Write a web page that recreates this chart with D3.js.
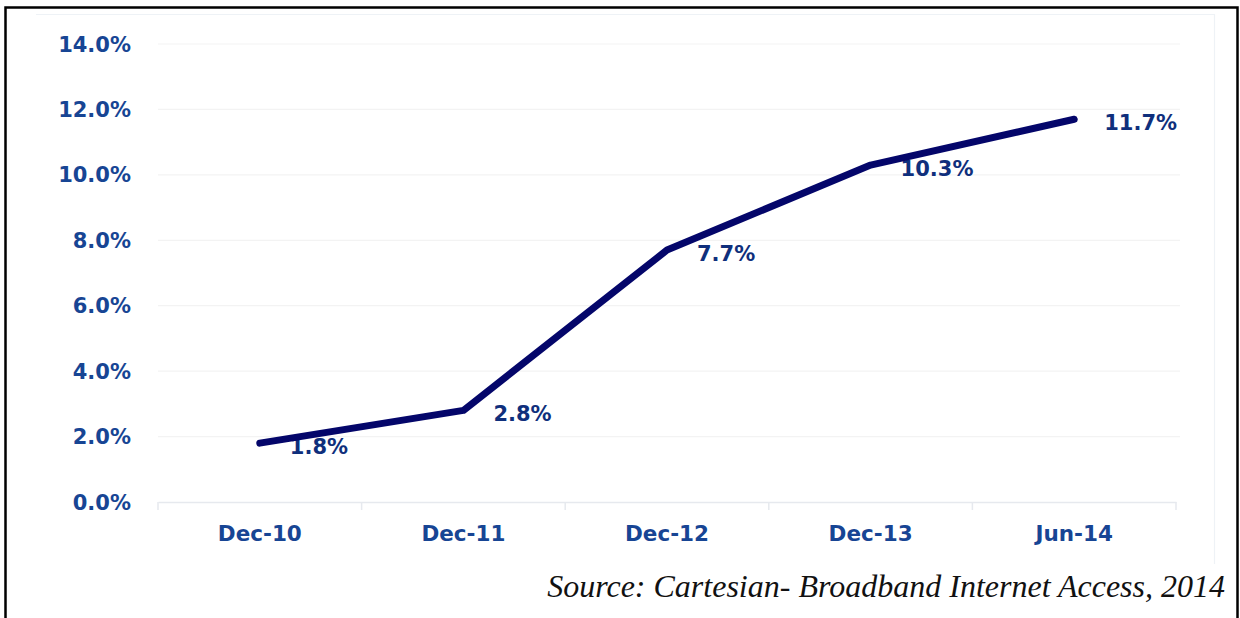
<!DOCTYPE html>
<html>
<head>
<meta charset="utf-8">
<script src="https://cdn.jsdelivr.net/npm/d3@7"></script>
<style>
  html, body { margin: 0; padding: 0; background: #fff; }
  svg { display: block; }
</style>
</head>
<body>
<svg id="chart" width="1240" height="618"></svg>
<script>
// Broadband penetration by period
const periods = ["Dec-10", "Dec-11", "Dec-12", "Dec-13", "Jun-14"];
const penetration = [1.8, 2.8, 7.7, 10.3, 11.7];
const yTicks = [0, 2, 4, 6, 8, 10, 12, 14];
const sourceNote = "Source: Cartesian- Broadband Internet Access, 2014";

const svg = d3.select("#chart");
const axisColor = "#174594";
const labelColor = "#0f2f7c";
const lineColor = "#04066a";
const labelFont = "DejaVu Sans, Verdana, sans-serif";

// outer frame
svg.append("rect")
  .attr("x", 5.5).attr("y", 7.5).attr("width", 1232).attr("height", 620)
  .attr("fill", "none").attr("stroke", "#000").attr("stroke-width", 2.5);

// faint chart-area edges (top and right)
svg.append("path")
  .attr("d", "M36,14.5H1214.5V564")
  .attr("fill", "none").attr("stroke", "#eef2f6").attr("stroke-width", 1.2);

const plot = { left: 158, right: 1176, top: 44, bottom: 502 };

const x = d3.scaleBand().domain(periods).range([plot.left, plot.right]).padding(0);
const y = d3.scaleLinear().domain([0, 14]).range([plot.bottom, plot.top]);

// horizontal gridlines
svg.append("g")
  .selectAll("line")
  .data(yTicks.filter(d => d > 0))
  .join("line")
  .attr("x1", plot.left).attr("x2", plot.right + 4)
  .attr("y1", d => y(d)).attr("y2", d => y(d))
  .attr("stroke", "#f3f3f3").attr("stroke-width", 1.2);

// y axis labels
svg.append("g")
  .selectAll("text")
  .data(yTicks)
  .join("text")
  .attr("x", 131)
  .attr("y", d => y(d))
  .attr("dy", "0.36em")
  .attr("text-anchor", "end")
  .attr("font-family", labelFont)
  .attr("font-weight", "bold")
  .attr("font-size", 21)
  .attr("fill", axisColor)
  .text(d => d.toFixed(1) + "%");

// x axis baseline with category ticks
const xAxis = d3.axisBottom(x).tickSize(0).tickFormat("");
const gx = svg.append("g").attr("transform", `translate(0,${plot.bottom})`).call(xAxis);
gx.select(".domain").attr("stroke", "#e6e9ee").attr("stroke-width", 1.5);
gx.selectAll(".tick").remove();
svg.append("g")
  .selectAll("line")
  .data(periods.map(p => x(p)).concat([plot.right]))
  .join("line")
  .attr("x1", d => d).attr("x2", d => d)
  .attr("y1", plot.bottom).attr("y2", plot.bottom + 8)
  .attr("stroke", "#e6e9ee").attr("stroke-width", 1.5);

// x category labels
svg.append("g")
  .selectAll("text")
  .data(periods)
  .join("text")
  .attr("x", d => x(d) + x.bandwidth() / 2)
  .attr("y", 541)
  .attr("text-anchor", "middle")
  .attr("font-family", labelFont)
  .attr("font-weight", "bold")
  .attr("font-size", 21.5)
  .attr("fill", axisColor)
  .text(d => d);

const pts = periods.map((p, i) => ({ p, v: penetration[i] }));

// value labels (drawn beneath the line)
svg.append("g")
  .selectAll("text")
  .data(pts)
  .join("text")
  .attr("x", d => x(d.p) + x.bandwidth() / 2 + 30)
  .attr("y", d => y(d.v) + 3)
  .attr("dy", "0.36em")
  .attr("font-family", labelFont)
  .attr("font-weight", "bold")
  .attr("font-size", 21)
  .attr("fill", labelColor)
  .text(d => d.v.toFixed(1) + "%");

// data line
const line = d3.line()
  .x(d => x(d.p) + x.bandwidth() / 2)
  .y(d => y(d.v));

svg.append("path")
  .datum(pts)
  .attr("d", line)
  .attr("fill", "none")
  .attr("stroke", lineColor)
  .attr("stroke-width", 7)
  .attr("stroke-linejoin", "round")
  .attr("stroke-linecap", "round");

// source note
svg.append("text")
  .attr("x", 1225)
  .attr("y", 597)
  .attr("text-anchor", "end")
  .attr("font-family", "Liberation Serif, Times New Roman, serif")
  .attr("font-style", "italic")
  .attr("font-size", 32)
  .attr("fill", "#111")
  .text(sourceNote);
</script>
</body>
</html>
